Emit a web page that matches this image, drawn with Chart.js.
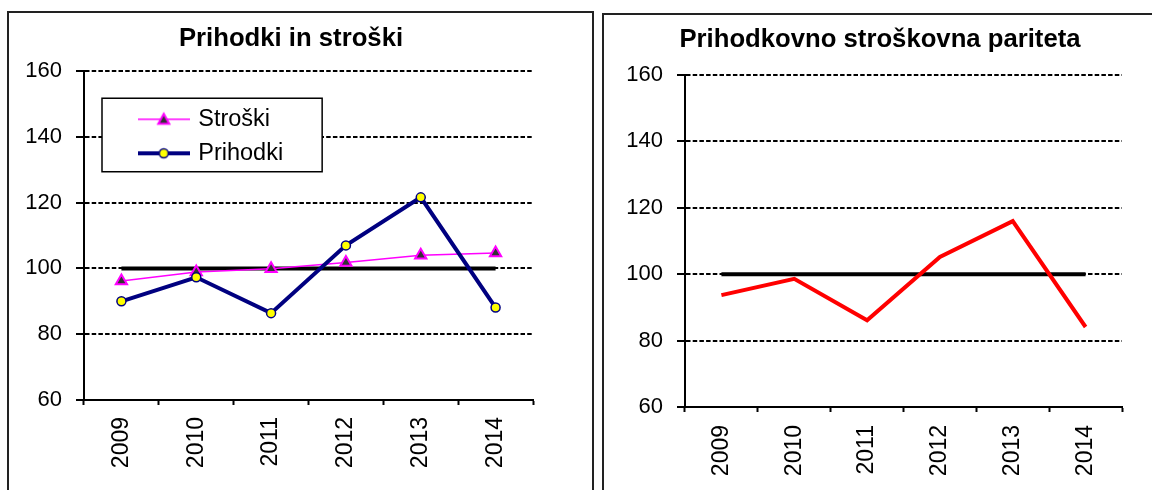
<!DOCTYPE html>
<html>
<head>
<meta charset="utf-8">
<script src="https://cdn.jsdelivr.net/npm/chart.js@4.4.0/dist/chart.umd.min.js"></script>
<style>
  body { margin: 0; width: 1152px; height: 490px; overflow: hidden; background: #fff; position: relative; }
  .panel { position: absolute; border: 2px solid #222; box-sizing: border-box; }
  #left-panel { left: 7px; top: 11px; width: 587px; height: 520px; }
  #right-panel { left: 602px; top: 13px; width: 600px; height: 520px; }
  canvas { position: absolute; top: 0; }
  #chart-left { left: 0; }
  #chart-right { left: 597px; }
</style>
</head>
<body>
<div class="panel" id="left-panel"></div>
<div class="panel" id="right-panel"></div>
<canvas id="chart-left" width="573" height="490"></canvas>
<canvas id="chart-right" width="555" height="490"></canvas>
<script>
const FONT = '"Liberation Sans", Arial, sans-serif';

const years = ["2009", "2010", "2011", "2012", "2013", "2014"];
const stroski = [96.2, 98.9, 99.9, 101.8, 104.0, 104.7];
const prihodki = [90.0, 97.3, 86.4, 107.0, 121.6, 88.1];
const pariteta = [93.7, 98.6, 86.1, 105.2, 116.0, 84.1];
const parityLevel = [100, 100, 100, 100, 100, 100];
const yTicks = [60, 80, 100, 120, 140, 160];

// small pictures used as legend keys: line with its marker
function legendIcon(draw) {
  const c = document.createElement("canvas");
  c.width = 52;
  c.height = 16;
  draw(c.getContext("2d"));
  return c;
}

const stroskiIcon = legendIcon((g) => {
  g.strokeStyle = "#FF00FF";
  g.lineWidth = 1.5;
  g.beginPath();
  g.moveTo(0, 8);
  g.lineTo(52, 8);
  g.stroke();
  g.beginPath();
  g.moveTo(26, 2.5);
  g.lineTo(31.5, 12.5);
  g.lineTo(20.5, 12.5);
  g.closePath();
  g.fillStyle = "#333";
  g.fill();
  g.lineWidth = 2;
  g.stroke();
});

const prihodkiIcon = legendIcon((g) => {
  g.strokeStyle = "#000080";
  g.lineWidth = 4;
  g.beginPath();
  g.moveTo(0, 8);
  g.lineTo(52, 8);
  g.stroke();
  g.beginPath();
  g.arc(26, 8, 4.5, 0, Math.PI * 2);
  g.fillStyle = "#FFFF00";
  g.fill();
  g.lineWidth = 1.5;
  g.stroke();
});

// title is centred a bit right of the canvas middle, like the original
const titleShift = {
  id: "titleShift",
  afterLayout(chart, args, opts) {
    const tb = chart.titleBlock;
    if (!tb || !opts.dx) return;
    tb.left += opts.dx;
    tb.right += opts.dx;
  },
};

// legend sits inside the plot, in a white framed box
const legendFrame = {
  id: "legendFrame",
  afterLayout(chart, args, opts) {
    const lg = chart.legend;
    if (!lg || !lg.options.display) return;
    const area = chart.chartArea;
    lg.left = area.left + opts.dx;
    lg.top = area.top + opts.dy;
    lg.right = area.right;
    lg.bottom = area.bottom;
    if (lg.framed) return;
    const baseDraw = lg.draw;
    lg.draw = function () {
      const boxes = this.legendHitBoxes;
      const ctx = this.ctx;
      const l = Math.min(...boxes.map((b) => b.left)) - opts.padX;
      const r = Math.max(...boxes.map((b) => b.left + b.width)) + opts.padX;
      const t = Math.min(...boxes.map((b) => b.top)) - opts.padTop;
      const btm = Math.max(...boxes.map((b) => b.top + b.height)) + opts.padBottom;
      ctx.save();
      ctx.fillStyle = "#fff";
      ctx.fillRect(l, t, r - l, btm - t);
      ctx.strokeStyle = "#000";
      ctx.lineWidth = 1.5;
      ctx.strokeRect(l, t, r - l, btm - t);
      ctx.restore();
      baseDraw.apply(this, arguments);
    };
    lg.framed = true;
  },
};

function makeScales(yWidth, xHeight, xPad) {
  return {
    x: {
      offset: true,
      grid: {
        offset: true,
        drawOnChartArea: false,
        drawTicks: true,
        tickLength: 5,
        tickWidth: 2,
        tickColor: "#000",
        color: "#000",
      },
      border: { color: "#000", width: 2 },
      ticks: {
        minRotation: 90,
        maxRotation: 90,
        padding: xPad,
        color: "#000",
        font: { family: FONT, size: 23 },
      },
      afterFit(scale) {
        scale.height = xHeight;
      },
    },
    y: {
      min: yTicks[0],
      max: yTicks[yTicks.length - 1],
      ticks: {
        stepSize: yTicks[1] - yTicks[0],
        padding: 14,
        color: "#000",
        font: { family: FONT, size: 22 },
      },
      grid: {
        color: "#000",
        lineWidth: 2,
        tickLength: 8,
        tickWidth: 2,
        tickColor: "#000",
      },
      border: { color: "#000", width: 2, dash: [4.5, 2.2] },
      afterFit(scale) {
        scale.width = yWidth;
      },
    },
  };
}

function titleOptions(text, padTop, padBottom) {
  return {
    display: true,
    text,
    color: "#000",
    font: { family: FONT, size: 25.7, weight: "bold" },
    padding: { top: padTop, bottom: padBottom },
  };
}

function generateLeftChart() {
  const ctx = document.getElementById("chart-left");
  const icons = [stroskiIcon, prihodkiIcon];
  return new Chart(ctx, {
    type: "line",
    data: {
      labels: years,
      datasets: [
        {
          label: "Stroški",
          data: stroski,
          borderColor: "#FF00FF",
          borderWidth: 1.5,
          pointStyle: "triangle",
          pointRadius: 6.5,
          pointBackgroundColor: "#333",
          pointBorderColor: "#FF00FF",
          pointBorderWidth: 2,
          order: 2,
        },
        {
          label: "Prihodki",
          data: prihodki,
          borderColor: "#000080",
          borderWidth: 4,
          pointStyle: "circle",
          pointRadius: 4.5,
          pointBackgroundColor: "#FFFF00",
          pointBorderColor: "#000080",
          pointBorderWidth: 1.5,
          order: 1,
        },
        {
          label: "100",
          data: parityLevel,
          borderColor: "#000",
          borderWidth: 4,
          pointRadius: 0,
          order: 3,
        },
      ],
    },
    options: {
      responsive: false,
      animation: false,
      layout: { padding: { left: 0, top: 0, right: 40, bottom: 0 } },
      scales: makeScales(84, 90, 12),
      plugins: {
        title: titleOptions("Prihodki in stroški", 23.6, 16.6),
        tooltip: { enabled: false },
        legend: {
          position: "chartArea",
          align: "start",
          labels: {
            usePointStyle: true,
            pointStyleWidth: 45.5,
            padding: 10.5,
            color: "#000",
            font: { family: FONT, size: 23.5 },
            filter: (item) => item.datasetIndex < 2,
            sort: (a, b) => a.datasetIndex - b.datasetIndex,
            generateLabels(chart) {
              const items = Chart.defaults.plugins.legend.labels.generateLabels(chart);
              items.forEach((item) => {
                item.pointStyle = icons[item.datasetIndex];
              });
              return items;
            },
          },
        },
        legendFrame: { dx: 46.5, dy: 26, padX: 39, padTop: 9.3, padBottom: 6.7 },
        titleShift: { dx: 24.5 },
      },
    },
    plugins: [legendFrame, titleShift],
  });
}

function generateRightChart() {
  const ctx = document.getElementById("chart-right");
  return new Chart(ctx, {
    type: "line",
    data: {
      labels: years,
      datasets: [
        {
          label: "Prihodkovno stroškovna pariteta",
          data: pariteta,
          borderColor: "#FF0000",
          borderWidth: 4,
          pointRadius: 0,
          order: 1,
        },
        {
          label: "100",
          data: parityLevel,
          borderColor: "#000",
          borderWidth: 4,
          pointRadius: 0,
          order: 2,
        },
      ],
    },
    options: {
      responsive: false,
      animation: false,
      layout: { padding: { left: 0, top: 0, right: 30, bottom: 0 } },
      scales: makeScales(88, 83, 13),
      plugins: {
        title: titleOptions("Prihodkovno stroškovna pariteta", 24.6, 19.6),
        tooltip: { enabled: false },
        legend: { display: false },
        titleShift: { dx: 20.5 },
      },
    },
    plugins: [titleShift],
  });
}

generateLeftChart();
generateRightChart();
</script>
</body>
</html>
